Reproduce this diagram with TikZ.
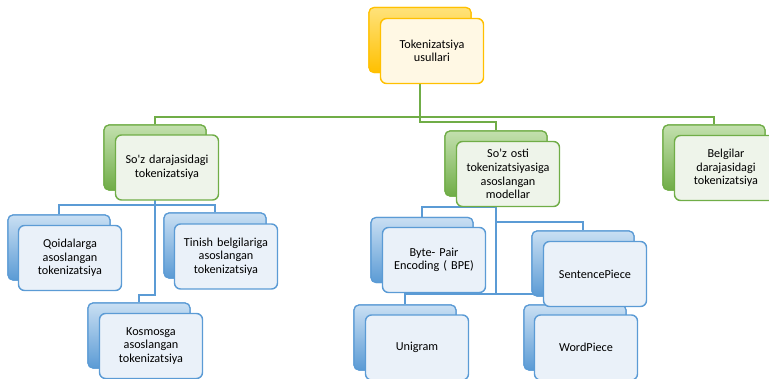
\documentclass[tikz,border=0pt]{standalone}
\usepackage{fontspec}
\setmainfont{Carlito}
\usepackage{tikz}
\usetikzlibrary{positioning}
\definecolor{ydk}{HTML}{FFC000}
\definecolor{ylt}{HTML}{FFE27A}
\definecolor{yfl}{HTML}{FFF8E4}
\definecolor{gdk}{HTML}{70AD47}
\definecolor{glt}{HTML}{C3E0AE}
\definecolor{gfl}{HTML}{EEF4EA}
\definecolor{bdk}{HTML}{5B9BD5}
\definecolor{blt}{HTML}{C9DFF3}
\definecolor{bfl}{HTML}{EAF1F9}
\begin{document}
\begin{tikzpicture}[x=1pt,y=-1pt,every node/.style={font=\fontsize{12.2}{13.6}\selectfont},
 bk/.style={rounded corners=5pt,minimum width=102pt,minimum height=65pt,inner sep=0pt,line width=1.2pt},
 fr/.style={draw,rounded corners=6pt,minimum width=103pt,minimum height=65pt,text width=96pt,inner sep=0pt,align=center,line width=1.4pt},
 yb/.style={bk,draw=ydk,top color=ylt,bottom color=ydk},yf/.style={fr,draw=ydk,fill=yfl},
 gb/.style={bk,draw=gdk,top color=glt,bottom color=gdk},gf/.style={fr,draw=gdk,fill=gfl},
 bb/.style={bk,draw=bdk,top color=blt,bottom color=bdk},bf/.style={fr,draw=bdk,fill=bfl},
 gline/.style={draw=gdk,line width=1.8pt},bline/.style={draw=bdk,line width=1.8pt}]
\useasboundingbox (0,0) rectangle (769,378);
\coordinate (bus) at (420,117);\coordinate (bus2) at (420,122);
\coordinate (lb) at (155,205);\coordinate (lk) at (155,295);
\coordinate (rb1) at (496,207);\coordinate (rb2) at (496,222);\coordinate (rb3) at (496,294);
\node[yb] (top-b) at (420,40) {};
\node[gb] (sw-b) at (155,157.5) {};
\node[gb] (so-b) at (496,163.5) {};
\node[gb] (bel-b) at (714,157.5) {};
\node[bb] (qo-b) at (59,247.5) {};
\node[bb] (ti-b) at (215,245.5) {};
\node[bb] (ko-b) at (139,335.5) {};
\node[bb] (bpe-b) at (422,250) {};
\node[bb] (sp-b) at (583,263.5) {};
\node[bb] (uni-b) at (405,337.5) {};
\node[bb] (wp-b) at (575,337.5) {};
\draw[gline](top-b)--(bus);\draw[gline](sw-b.north)|-(bus)-|(bel-b.north);\draw[gline](bus)--(bus2)-|(so-b.north);
\draw[bline](sw-b.south)--(lk)-|(ko-b.north);\draw[bline](qo-b.north)|-(lb)-|(ti-b.north);
\draw[bline](so-b.south)--(rb3);\draw[bline](rb1)-|(bpe-b.north);\draw[bline](rb2)-|(sp-b.north);
\draw[bline](uni-b.north)|-(rb3)-|(wp-b.north);
\node[yb] at (top-b) {};\node[gb] at (sw-b) {};\node[gb] at (so-b) {};\node[gb] at (bel-b) {};
\node[bb] at (qo-b) {};\node[bb] at (ti-b) {};\node[bb] at (ko-b) {};
\node[bb] at (bpe-b) {};\node[bb] at (sp-b) {};\node[bb] at (uni-b) {};\node[bb] at (wp-b) {};
\node[yf] (top) at (432,51) {Tokenizatsiya\\usullari};
\node[gf] (sw) at (167,167.5) {So\textquotesingle z darajasidagi\\tokenizatsiya};
\node[gf] (so) at (508,174) {So’z osti\\tokenizatsiyasiga\\asoslangan\\modellar};
\node[gf] (bel) at (726,168) {Belgilar\\darajasidagi\\tokenizatsiya};
\node[bf] (qo) at (70,258) {Qoidalarga\\asoslangan\\tokenizatsiya};
\node[bf] (ti) at (226,256.5) {Tinish belgilariga\\asoslangan\\tokenizatsiya};
\node[bf] (ko) at (151,346) {Kosmosga\\asoslangan\\tokenizatsiya};
\node[bf] (bpe) at (434,260) {Byte- Pair\\Encoding ( BPE)};
\node[bf] (sp) at (595,274) {SentencePiece};
\node[bf] (uni) at (417,347.5) {Unigram};
\node[bf] (wp) at (586,347.5) {WordPiece};
\end{tikzpicture}
\end{document}
